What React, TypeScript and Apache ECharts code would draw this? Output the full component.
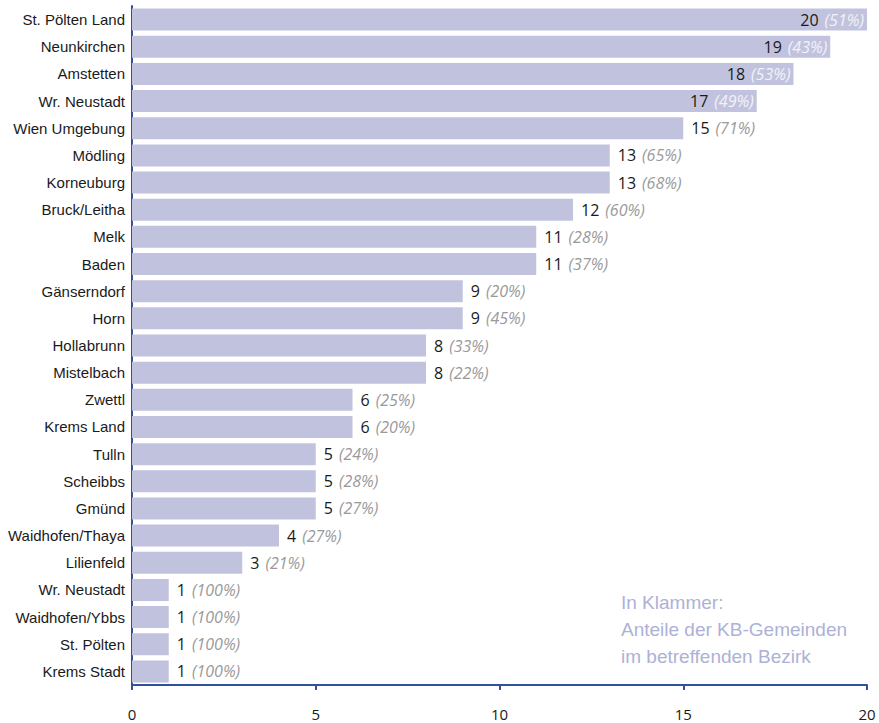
import React, { useEffect, useRef } from "react";
import * as echarts from "echarts";

// Bezirke, sorted by number of KB-Gemeinden (top to bottom)
const districts = [
  "St. Pölten Land",
  "Neunkirchen",
  "Amstetten",
  "Wr. Neustadt",
  "Wien Umgebung",
  "Mödling",
  "Korneuburg",
  "Bruck/Leitha",
  "Melk",
  "Baden",
  "Gänserndorf",
  "Horn",
  "Hollabrunn",
  "Mistelbach",
  "Zwettl",
  "Krems Land",
  "Tulln",
  "Scheibbs",
  "Gmünd",
  "Waidhofen/Thaya",
  "Lilienfeld",
  "Wr. Neustadt",
  "Waidhofen/Ybbs",
  "St. Pölten",
  "Krems Stadt",
];

// Number of KB-Gemeinden per Bezirk
const counts = [20, 19, 18, 17, 15, 13, 13, 12, 11, 11, 9, 9, 8, 8, 6, 6, 5, 5, 5, 4, 3, 1, 1, 1, 1];

// Share of KB-Gemeinden in the Bezirk (percent)
const shares = [51, 43, 53, 49, 71, 65, 68, 60, 28, 37, 20, 45, 33, 22, 25, 20, 24, 28, 27, 27, 21, 100, 100, 100, 100];

const xTicks = [0, 5, 10, 15, 20];

const noteLines = ["In Klammer:", "Anteile der KB-Gemeinden", "im betreffenden Bezirk"];

// Bars at least this long carry their label inside
const insideFrom = 17;

const AXIS_BLUE = "#30529e";
const BAR_FILL = "#c1c3de";
const NUM_FONT = '"Open Sans", sans-serif';

export default function App() {
  const ref = useRef<HTMLDivElement>(null);

  useEffect(() => {
    if (!ref.current) return;
    const chart = echarts.init(ref.current, undefined, { renderer: "svg" });

    const data = counts.map((v) => {
      const inside = v >= insideFrom;
      return {
        value: v,
        label: {
          position: inside ? "insideRight" : "right",
          distance: inside ? 3 : 8,
          rich: {
            v: { color: "#1a1a1a", fontSize: 16, fontFamily: NUM_FONT, padding: [0, 6, 0, 0] },
            p: {
              color: inside ? "#f2f2f8" : "#9a9a9a",
              fontSize: 16,
              fontStyle: "italic",
              fontFamily: NUM_FONT,
            },
          },
        },
      };
    });

    chart.setOption({
      animation: false,
      backgroundColor: "#ffffff",
      grid: { left: 132, right: 12, top: 6, bottom: 38, containLabel: false },
      xAxis: {
        type: "value",
        min: xTicks[0],
        max: xTicks[xTicks.length - 1],
        interval: 5,
        axisLine: { show: true, lineStyle: { color: AXIS_BLUE, width: 2 } },
        axisTick: { show: true, inside: false, length: 5, lineStyle: { color: AXIS_BLUE, width: 2 } },
        axisLabel: { color: "#1a1a1a", fontSize: 15, fontFamily: NUM_FONT, margin: 21 },
        splitLine: { show: false },
      },
      yAxis: {
        type: "category",
        inverse: true,
        data: districts,
        axisLine: { show: true, lineStyle: { color: AXIS_BLUE, width: 2 } },
        axisTick: { show: false },
        axisLabel: { color: "#1a1a1a", fontSize: 15, fontFamily: '"Liberation Sans", Arial, sans-serif', margin: 7 },
      },
      series: [
        {
          type: "bar",
          data,
          barCategoryGap: "19%",
          itemStyle: { color: BAR_FILL },
          label: {
            show: true,
            formatter: (p: any) => `{v|${counts[p.dataIndex]}}{p|(${shares[p.dataIndex]}%)}`,
          },
        },
      ],
      graphic: [
        {
          type: "text",
          left: 621,
          top: 589,
          style: {
            text: noteLines.join("\n"),
            fill: "#adb1d6",
            font: '19px "Liberation Sans", Arial, sans-serif',
            lineHeight: 27,
          },
        },
      ],
    });

    return () => chart.dispose();
  }, []);

  return <div ref={ref} style={{ width: 879, height: 723, position: "absolute", left: 0, top: 0 }} />;
}
